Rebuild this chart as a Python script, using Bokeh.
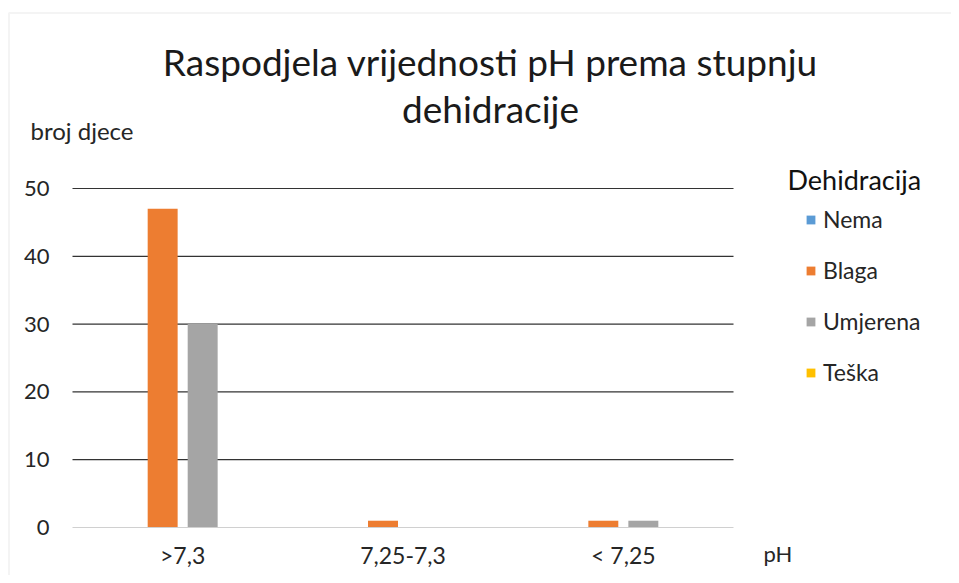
import numpy as np
from bokeh.plotting import figure
from bokeh.models import Range1d, FixedTicker, Label, Legend, LegendItem, BoxAnnotation
from bokeh.embed import file_html
from bokeh.resources import INLINE

# ---- data ----
categories = [">7,3", "7,25-7,3", "< 7,25"]
series_names = ["Nema", "Blaga", "Umjerena", "Teška"]
nema = [0, 0, 0]
blaga = [47, 1, 1]
umjerena = [30, 0, 1]
teska = [0, 0, 0]
colors = ["#5B9BD5", "#ED7D31", "#A5A5A5", "#FFC000"]
y_ticks = [0, 10, 20, 30, 40, 50]
title_lines = ["Raspodjela vrijednosti pH prema stupnju", "dehidracije"]
y_title = "broj djece"
x_title = "pH"
legend_title = "Dehidracija"

FONT = "Lato"
TXT = "#262626"

W, H = 951, 575
# plot area in pixels: x 72..733, y(0)=527, y(50)=188
X0, X1, Y0, Y50 = 72.0, 733.0, 527.0, 188.0
ncat = len(categories)
kx = (X1 - X0) / ncat
ky = (Y0 - Y50) / 50.0
xr = Range1d(-X0 / kx, (W - X0) / kx)
yr = Range1d(-(H - Y0) / ky, Y0 / ky)

p = figure(width=W, height=H, output_backend="svg", toolbar_location=None,
           x_range=xr, y_range=yr,
           min_border=0, min_border_left=0, min_border_right=0,
           min_border_top=0, min_border_bottom=0)
p.outline_line_color = None
p.background_fill_color = "white"
p.border_fill_color = "white"

# chart box border (top and left edges visible)
p.add_layout(BoxAnnotation(left=(8.5 - X0) / kx, top=(Y0 - 12.5) / ky,
                           right=xr.end + 1, bottom=yr.start - 1,
                           fill_alpha=0, line_color="#dcdcdc", line_width=2,
                           level="underlay"))

# horizontal grid lines limited to the plot area
grid_ticks = [t for t in y_ticks if t > 0]
p.segment(x0=[0] * len(grid_ticks), x1=[ncat] * len(grid_ticks),
          y0=grid_ticks, y1=grid_ticks, line_color="#333333", line_width=1.2)

slot = 0.1816
bw = 0.136
idx = np.arange(ncat)
items = []
for k, vals in enumerate([nema, blaga, umjerena, teska]):
    xs = idx + 0.5 + (k - 1.5) * slot
    r = p.vbar(x=xs, top=vals, bottom=0, width=bw, fill_color=colors[k], line_color=None)
    items.append(LegendItem(label=series_names[k], renderers=[r]))

# axes, pinned inside the (full-canvas) frame
p.xaxis.fixed_location = 0
p.yaxis.fixed_location = 0
p.xaxis.bounds = (0, ncat)
p.yaxis.bounds = (0, 50)
p.xaxis.ticker = FixedTicker(ticks=[i + 0.5 for i in idx])
p.xaxis.major_label_overrides = {float(i + 0.5): c for i, c in zip(idx, categories)}
p.yaxis.ticker = FixedTicker(ticks=y_ticks)
for ax in (p.xaxis, p.yaxis):
    ax.major_tick_line_color = None
    ax.minor_tick_line_color = None
    ax.major_label_text_font = FONT
    ax.major_label_text_color = TXT
p.xaxis.major_label_text_font_size = "23px"
p.yaxis.major_label_text_font_size = "22px"
p.yaxis.axis_line_color = None
p.xaxis.axis_line_color = "#d0d0d0"
p.xaxis.axis_line_width = 1
p.yaxis.major_label_standoff = 17
p.xaxis.major_label_standoff = 7

p.xgrid.grid_line_color = None
p.ygrid.grid_line_color = None

def lab(px, py, text, size, align="left", color=TXT):
    p.add_layout(Label(x=(px - X0) / kx, y=(Y0 - py) / ky, text=text, text_align=align,
                       text_baseline="middle", text_font=FONT, text_font_size=size,
                       text_color=color))

lab(490, 61, title_lines[0], "37px", "center", "#1a1a1a")
lab(490, 108, title_lines[1], "37px", "center", "#1a1a1a")
lab(30, 130, y_title, "24px")
lab(763, 553, x_title, "22px")
lab(787, 179, legend_title, "27px", color="#111111")

legend = Legend(items=items, location=(805, H - 386), orientation="vertical",
                glyph_width=11, glyph_height=11, label_height=20, spacing=23,
                label_standoff=7, padding=0, margin=0,
                border_line_color=None, background_fill_alpha=0,
                label_text_font=FONT, label_text_font_size="23px", label_text_color=TXT)
p.add_layout(legend)

open("out.html", "w").write(file_html(p, INLINE))
